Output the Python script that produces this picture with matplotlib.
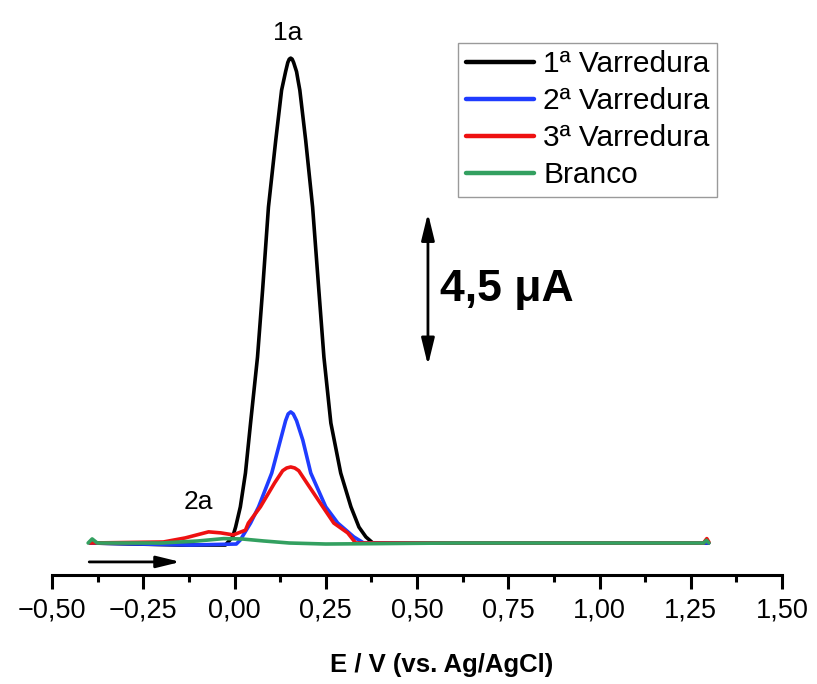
#!/usr/bin/env python3
"""Voltammograms: three successive scans plus blank, with a 4.5 uA scale bar."""

import matplotlib

matplotlib.use("Agg")
import matplotlib.pyplot as plt

# potentials (V vs Ag/AgCl) and currents (uA, relative to baseline)
E_scan1 = [-0.396, -0.148, -0.025, -0.005, 0.003, 0.016, 0.030, 0.044, 0.063, 0.077,
           0.093, 0.113, 0.129, 0.135, 0.140, 0.146, 0.150, 0.154, 0.158, 0.162,
           0.170, 0.174, 0.179, 0.195, 0.214, 0.231, 0.245, 0.264, 0.291, 0.319,
           0.341, 0.360, 0.379, 1.299]
I_scan1 = [0.0, -0.06, -0.06, 0.18, 0.47, 1.07, 2.07, 3.55, 5.50, 7.49,
           9.94, 11.92, 13.40, 13.70, 13.95, 14.22, 14.32, 14.35, 14.32, 14.22,
           13.95, 13.70, 13.40, 11.92, 9.94, 7.49, 5.50, 3.55, 2.07, 1.07,
           0.47, 0.18, 0.0, 0.0]

E_scan2 = [-0.396, -0.121, 0.005, 0.016, 0.044, 0.066, 0.102, 0.126, 0.140, 0.147,
           0.154, 0.161, 0.170, 0.187, 0.209, 0.250, 0.283, 0.327, 0.354, 1.299]
I_scan2 = [0.0, -0.06, -0.03, 0.09, 0.59, 1.07, 2.07, 3.05, 3.62, 3.82,
           3.88, 3.82, 3.62, 3.05, 2.07, 1.07, 0.59, 0.18, 0.0, 0.0]

E_scan3 = [-0.396, -0.195, -0.135, -0.071, -0.038, -0.003, 0.030, 0.038, 0.071, 0.110,
           0.132, 0.143, 0.154, 0.165, 0.176, 0.198, 0.242, 0.272, 0.310, 0.332,
           1.285, 1.294, 1.300]
I_scan3 = [0.0, 0.03, 0.15, 0.33, 0.30, 0.24, 0.38, 0.59, 1.07, 1.78,
           2.14, 2.22, 2.25, 2.22, 2.14, 1.78, 1.07, 0.59, 0.30, 0.0,
           0.0, 0.13, 0.02]

E_blank = [-0.401, -0.390, -0.376, -0.20, -0.10, -0.03, 0.02, 0.08, 0.15, 0.25,
           0.38, 0.60, 1.285, 1.293, 1.300]
I_blank = [0.0, 0.12, 0.0, 0.0, 0.06, 0.13, 0.12, 0.06, 0.0, -0.03,
           -0.02, 0.0, 0.0, 0.08, 0.0]

labels = ["1ª Varredura", "2ª Varredura", "3ª Varredura", "Branco"]
colors = ["#000000", "#1f3cff", "#ee1111", "#33a060"]

xticks = [-0.50, -0.25, 0.00, 0.25, 0.50, 0.75, 1.00, 1.25, 1.50]
xticklabels = ["\u22120,50", "\u22120,25", "0,00", "0,25", "0,50", "0,75", "1,00", "1,25", "1,50"]

scale_bar = 4.5  # uA


def main():
    plt.rcParams["font.family"] = ["Liberation Sans", "DejaVu Sans"]

    W, H = 817, 684
    fig = plt.figure(figsize=(W / 100, H / 100), dpi=100)
    ax = fig.add_axes([52 / W, 1 - 575 / H, (782 - 52) / W, 575 / H])

    series = [(E_scan1, I_scan1), (E_scan2, I_scan2), (E_scan3, I_scan3), (E_blank, I_blank)]
    for (e, i), lab, c in zip(series, labels, colors):
        ax.plot(e, i, color=c, lw=2.6, label=lab, solid_capstyle="round", solid_joinstyle="round")

    ax.set_xlim(-0.5, 1.5)
    ax.set_ylim(-0.947, 16.07)

    for s in ["left", "right", "top"]:
        ax.spines[s].set_visible(False)
    ax.spines["bottom"].set_linewidth(2.2)
    ax.set_yticks([])
    ax.set_xticks(xticks)
    ax.set_xticklabels(xticklabels, fontsize=19.5)
    ax.set_xticks([x + 0.125 for x in xticks[:-1]], minor=True)
    ax.tick_params(axis="x", which="major", length=10, width=2.2, pad=6, direction="out")
    ax.tick_params(axis="x", which="minor", length=5, width=2.2, direction="out")

    fig.text(442 / W, 1 - 665 / H, "E / V (vs. Ag/AgCl)", fontsize=18.5,
             fontweight="bold", ha="center", va="center")

    # peak labels
    ax.text(0.145, 15.09, "1a", fontsize=19, ha="center", va="center")
    ax.text(-0.099, 1.21, "2a", fontsize=19, ha="center", va="center")

    # current scale bar
    ax.annotate("", xy=(0.530, 9.76), xytext=(0.530, 9.76 - scale_bar),
                arrowprops=dict(arrowstyle="<|-|>,head_length=0.9,head_width=0.22", color="k",
                                lw=2, mutation_scale=18, shrinkA=0, shrinkB=0))
    ax.text(0.562, 7.49, "4,5 μA", fontsize=32, fontweight="bold", ha="left", va="center")

    # scan direction
    ax.annotate("", xy=(-0.148, -0.56), xytext=(-0.398, -0.56),
                arrowprops=dict(arrowstyle="-|>,head_length=0.9,head_width=0.22", color="k",
                                lw=2, mutation_scale=16, shrinkA=0, shrinkB=0))

    leg = ax.legend(loc="upper right", bbox_to_anchor=(717 / W, 1 - 43 / H),
                    bbox_transform=fig.transFigure, borderaxespad=0, fontsize=21.5,
                    handlelength=2.3, handletextpad=0.3, labelspacing=0.3,
                    borderpad=0.25, fancybox=False, framealpha=1)
    leg.get_frame().set_edgecolor("#9a9a9a")
    leg.get_frame().set_linewidth(1.0)
    for h in leg.get_lines():
        h.set_linewidth(3.2)

    fig.savefig("out.png", dpi=100)


if __name__ == "__main__":
    main()
